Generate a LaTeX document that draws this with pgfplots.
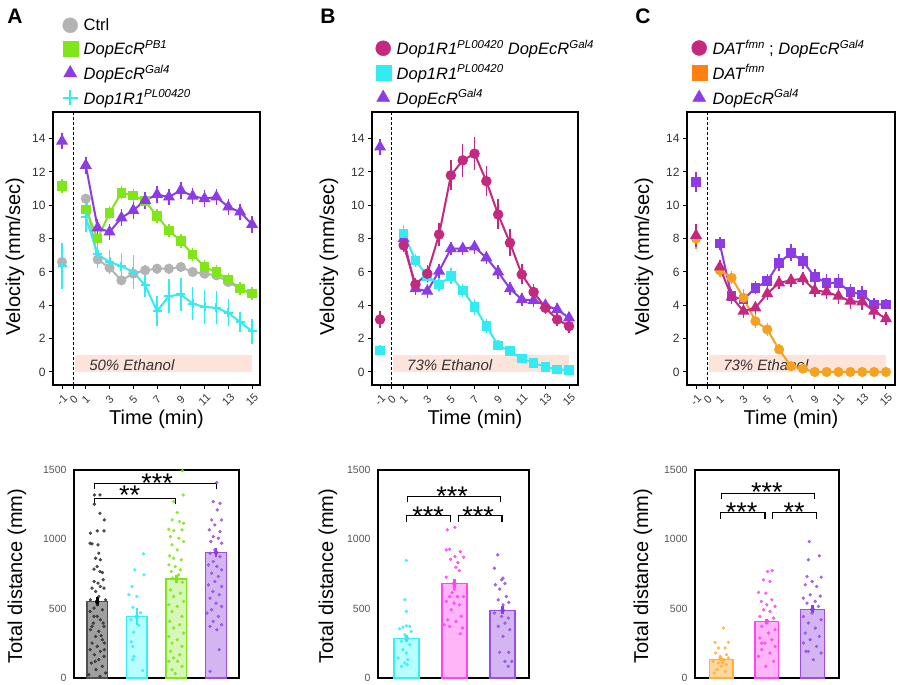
\documentclass[border=0pt]{standalone}
\usepackage{fontspec}
\setmainfont{Liberation Sans}
\usepackage{pgfplots}
\pgfplotsset{compat=1.18}
\definecolor{cgray}{HTML}{B3B3B3}
\definecolor{cgreen}{HTML}{80E619}
\definecolor{cpurple}{HTML}{8C3BE5}
\definecolor{ccyan}{HTML}{33EBF2}
\definecolor{cmag}{HTML}{C4287F}
\definecolor{corange}{HTML}{F7A21F}
\definecolor{corange2}{HTML}{FF8010}
\definecolor{cband}{HTML}{FDE4DB}
\definecolor{ctick}{HTML}{333333}
\definecolor{ctickb}{HTML}{555555}
% bar colours
\definecolor{bgrayF}{HTML}{A0A0A0}\definecolor{bgrayE}{HTML}{505050}\definecolor{bgrayD}{HTML}{333333}
\definecolor{bcyanF}{HTML}{B8FDFF}\definecolor{bcyanE}{HTML}{35F0F5}
\definecolor{bgreenF}{HTML}{D6F7B8}\definecolor{bgreenE}{HTML}{80E619}
\definecolor{bpurpF}{HTML}{D4B5F2}\definecolor{bpurpE}{HTML}{9A4DE8}
\definecolor{bpinkF}{HTML}{FFB5F7}\definecolor{bpinkE}{HTML}{FF45F0}
\definecolor{borangF}{HTML}{FFD69C}\definecolor{borangE}{HTML}{FFB03C}
\newcommand{\sups}[1]{\raisebox{6.5pt}{\fontsize{11.5}{12}\selectfont\itshape #1}}
\tikzset{
  star/.style={font=\fontsize{27}{27}\selectfont, anchor=center, inner sep=0pt},
  brk/.style={line width=1.2pt, black},
}
\pgfplotsset{
  topax/.style={
    scale only axis, height=273pt, anchor=south west,
    ymin=-0.78, ymax=15.6,
    ytick={0,2,...,14},
    xtick={-1,0,1,3,5,7,9,11,13,15},
    tick pos=left, tick align=outside, major tick length=4pt,
    every tick/.style={black, line width=1pt},
    axis line style={line width=1.6pt},
    tick label style={font=\fontsize{12}{14}\selectfont, text=ctick},
    xticklabel style={rotate=45, anchor=center, font=\fontsize{11}{13}\selectfont},
    xticklabel shift=11pt,
    /pgf/number format/assume math mode=true,
    label style={font=\fontsize{20}{24}\selectfont},
    xlabel={Time (min)},
    ylabel={Velocity (mm/sec)},
    xlabel style={at={(axis description cs:0.5,-0.125)}, anchor=center},
    unbounded coords=jump,
    legend cell align=left,
    legend image code/.code={\draw[##1] plot coordinates {(7.5pt,0pt)}; \path[draw=none, fill=none] (0pt,0pt) -- (19pt,0pt);},
    legend style={at={(axis description cs:0,1)}, anchor=south west, draw=none, fill=none,
      inner sep=0pt, row sep=4.5pt, font=\fontsize{16.5}{19}\selectfont},
  },
  ser/.style={color=#1, line width=2pt, mark options={solid, fill=#1},
    error bars/y dir=both, error bars/y explicit, error bars/error mark=none,
    error bars/error bar style={line width=1.5pt, color=#1}},
  leg/.style={only marks, mark size=7.5pt, color=#1, mark options={fill=#1}},
  botax/.style={
    scale only axis, anchor=south west, height=208pt, ymin=0, ymax=1500,
    ytick={0,500,1000,1500}, xtick=\empty, major tick length=0pt, tick pos=left,
    axis line style={line width=1.3pt},
    yticklabel style={font=\fontsize{10.5}{12}\selectfont, text=ctickb, xshift=-4pt},
    /pgf/number format/assume math mode=true, /pgf/number format/1000 sep={},
    ylabel={Total distance (mm)}, label style={font=\fontsize{20}{24}\selectfont},
    clip=false,
  },
  bars/.style 2 args={ybar, bar width=0.52, bar shift=0pt, fill=#1, draw=#2, line width=1.3pt, forget plot},
  dots/.style={only marks, mark=*, color=#1, mark size=1.45pt, mark options={draw=none, fill=#1, fill opacity=0.8}, forget plot},
  eb/.style={only marks, mark=none, color=#1, forget plot, error bars/y dir=both, error bars/y explicit, error bars/error mark=none,
    error bars/error bar style={line width=2.6pt, color=#1}},
}
\begin{document}
\begin{tikzpicture}
\path[use as bounding box] (0pt,0pt) rectangle (900pt,685pt);
\node[font=\bfseries\fontsize{21}{21}\selectfont] at (15pt,669pt) {A};
\node[font=\bfseries\fontsize{21}{21}\selectfont] at (328pt,669pt) {B};
\node[font=\bfseries\fontsize{21}{21}\selectfont] at (643pt,669pt) {C};

% ================= A top =================
\begin{axis}[topax, at={(53pt,300pt)}, width=207pt, xmin=-1.76, xmax=15.67,
  ylabel style={at={(axis description cs:-0.184,0.47)}, anchor=center},
  legend style={xshift=9.5pt, yshift=4pt}]
\addplot[fill=cband, draw=none, forget plot] coordinates {(0.1,0) (15,0) (15,1) (0.1,1)} -- cycle;
\node[anchor=west, font=\itshape\fontsize{15}{15}\selectfont, text=ctick] at (axis cs:1.0,0.42) {50\% Ethanol};
\draw[densely dashed, line width=0.9pt] (axis cs:0,-0.78) -- (axis cs:0,15.6);
\addlegendimage{leg=cgray, mark=*}\addlegendentry{Ctrl}
\addlegendimage{leg=cgreen, mark=square*}\addlegendentry{\textit{DopEcR}\sups{PB1}}
\addlegendimage{leg=cpurple, mark=triangle*}\addlegendentry{\textit{DopEcR}\sups{Gal4}}
\addlegendimage{leg=ccyan, mark=+, mark options={line width=2.2pt}}\addlegendentry{\textit{Dop1R1}\sups{PL00420}}
\addplot[ser=cgray, mark=*, mark size=4pt, forget plot] table[x=x, y=y, y error=e, row sep=\\] {
x y e\\ -1 6.6 0.3\\ 0 nan 0\\ 1 10.4 0.3\\ 2 6.75 0.3\\ 3 6.25 0.3\\ 4 5.5 0.3\\ 5 5.9 0.3\\ 6 6.1 0.3\\ 7 6.2 0.3\\ 8 6.2 0.3\\ 9 6.3 0.3\\ 10 6.0 0.3\\ 11 5.9 0.3\\ 12 5.8 0.3\\ 13 5.4 0.3\\ 14 5.0 0.3\\ 15 4.7 0.3\\
};
\addplot[ser=cgreen, mark=square*, mark size=3.8pt, forget plot] table[x=x, y=y, y error=e, row sep=\\] {
x y e\\ -1 11.15 0.4\\ 0 nan 0\\ 1 9.75 0.4\\ 2 8.0 0.4\\ 3 9.55 0.4\\ 4 10.75 0.4\\ 5 10.6 0.4\\ 6 10.25 0.4\\ 7 9.35 0.4\\ 8 8.5 0.4\\ 9 7.85 0.4\\ 10 7.05 0.4\\ 11 6.3 0.4\\ 12 6.0 0.4\\ 13 5.55 0.4\\ 14 5.0 0.4\\ 15 4.7 0.4\\
};
\addplot[ser=cpurple, mark=triangle*, mark size=5pt, forget plot] table[x=x, y=y, y error=e, row sep=\\] {
x y e\\ -1 13.85 0.5\\ 0 nan 0\\ 1 12.4 0.5\\ 2 8.65 0.5\\ 3 8.4 0.5\\ 4 9.25 0.5\\ 5 9.7 0.5\\ 6 10.3 0.5\\ 7 10.65 0.5\\ 8 10.5 0.5\\ 9 10.9 0.5\\ 10 10.55 0.5\\ 11 10.4 0.5\\ 12 10.5 0.5\\ 13 9.9 0.5\\ 14 9.6 0.5\\ 15 8.85 0.5\\
};
\addplot[ser=ccyan, mark=+, mark size=4.5pt, forget plot] table[x=x, y=y, y error=e, row sep=\\] {
x y e\\ -1 6.35 1.4\\ 0 nan 0\\ 1 9.3 0.9\\ 2 7.05 0.8\\ 3 6.6 0.7\\ 4 6.35 0.8\\ 5 6.0 1.0\\ 6 5.2 0.7\\ 7 3.65 0.9\\ 8 4.55 1.0\\ 9 4.65 1.0\\ 10 4.1 1.0\\ 11 3.9 1.0\\ 12 3.85 1.0\\ 13 3.55 0.8\\ 14 3.0 0.6\\ 15 2.45 0.75\\
};
\end{axis}

% ================= B top =================
\begin{axis}[topax, at={(372pt,300pt)}, width=206pt, xmin=-1.68, xmax=15.76,
  ylabel style={at={(axis description cs:-0.209,0.47)}, anchor=center},
  legend style={xshift=3.5pt, yshift=4pt}]
\addplot[fill=cband, draw=none, forget plot] coordinates {(0.1,0) (15,0) (15,1) (0.1,1)} -- cycle;
\node[anchor=west, font=\itshape\fontsize{15}{15}\selectfont, text=ctick] at (axis cs:1.0,0.42) {73\% Ethanol};
\draw[densely dashed, line width=0.9pt] (axis cs:0,-0.78) -- (axis cs:0,15.6);
\addlegendimage{leg=cmag, mark=*}\addlegendentry{\textit{Dop1R1}\sups{PL00420} \textit{DopEcR}\sups{Gal4}}
\addlegendimage{leg=ccyan, mark=square*}\addlegendentry{\textit{Dop1R1}\sups{PL00420}}
\addlegendimage{leg=cpurple, mark=triangle*}\addlegendentry{\textit{DopEcR}\sups{Gal4}}
\addplot[ser=cpurple, mark=triangle*, mark size=5pt, forget plot] table[x=x, y=y, y error=e, row sep=\\] {
x y e\\ -1 13.5 0.5\\ 0 nan 0\\ 1 8.0 0.4\\ 2 5.0 0.4\\ 3 4.85 0.4\\ 4 6.05 0.4\\ 5 7.4 0.4\\ 6 7.4 0.4\\ 7 7.5 0.4\\ 8 6.85 0.4\\ 9 6.0 0.4\\ 10 5.0 0.4\\ 11 4.35 0.4\\ 12 4.3 0.4\\ 13 4.0 0.4\\ 14 3.75 0.4\\ 15 3.25 0.3\\
};
\addplot[ser=ccyan, mark=square*, mark size=3.8pt, forget plot] table[x=x, y=y, y error=e, row sep=\\] {
x y e\\ -1 1.3 0.3\\ 0 nan 0\\ 1 8.3 0.5\\ 2 6.7 0.4\\ 3 5.75 0.4\\ 4 5.25 0.4\\ 5 5.75 0.5\\ 6 4.9 0.4\\ 7 3.9 0.5\\ 8 2.75 0.4\\ 9 1.6 0.3\\ 10 1.25 0.3\\ 11 0.8 0.2\\ 12 0.55 0.2\\ 13 0.3 0.1\\ 14 0.15 0.1\\ 15 0.12 0.1\\
};
\addplot[ser=cmag, mark=*, mark size=4.2pt, forget plot] table[x=x, y=y, y error=e, row sep=\\] {
x y e\\ -1 3.15 0.5\\ 0 nan 0\\ 1 7.6 0.4\\ 2 5.25 0.4\\ 3 5.9 0.5\\ 4 8.25 0.7\\ 5 11.8 0.9\\ 6 12.7 1.0\\ 7 13.1 1.0\\ 8 11.45 0.9\\ 9 9.45 0.9\\ 10 7.75 0.8\\ 11 5.85 0.6\\ 12 4.8 0.5\\ 13 3.85 0.4\\ 14 3.15 0.4\\ 15 2.75 0.4\\
};
\end{axis}

% ================= C top =================
\begin{axis}[topax, at={(687pt,300pt)}, width=208pt, xmin=-1.76, xmax=15.76,
  ylabel style={at={(axis description cs:-0.207,0.47)}, anchor=center},
  legend style={xshift=4.5pt, yshift=4pt}]
\addplot[fill=cband, draw=none, forget plot] coordinates {(0.1,0) (15,0) (15,1) (0.1,1)} -- cycle;
\node[anchor=west, font=\itshape\fontsize{15}{15}\selectfont, text=ctick] at (axis cs:1.0,0.42) {73\% Ethanol};
\draw[densely dashed, line width=0.9pt] (axis cs:0,-0.78) -- (axis cs:0,15.6);
\addlegendimage{leg=cmag, mark=*}\addlegendentry{\textit{DAT}\sups{fmn} ; \textit{DopEcR}\sups{Gal4}}
\addlegendimage{leg=corange2, mark=square*}\addlegendentry{\textit{DAT}\sups{fmn}}
\addlegendimage{leg=cpurple, mark=triangle*}\addlegendentry{\textit{DopEcR}\sups{Gal4}}
\addplot[ser=cpurple, mark=square*, mark size=3.8pt, forget plot] table[x=x, y=y, y error=e, row sep=\\] {
x y e\\ -1 11.4 0.6\\ 0 nan 0\\ 1 7.7 0.4\\ 2 4.55 0.4\\ 3 4.35 0.4\\ 4 5.05 0.4\\ 5 5.45 0.4\\ 6 6.55 0.5\\ 7 7.15 0.5\\ 8 6.65 0.5\\ 9 5.7 0.5\\ 10 5.35 0.5\\ 11 5.35 0.5\\ 12 4.8 0.5\\ 13 4.65 0.5\\ 14 4.05 0.4\\ 15 4.05 0.3\\
};
\addplot[ser=corange, mark=*, mark size=4pt, forget plot] table[x=x, y=y, y error=e, row sep=\\] {
x y e\\ -1 8.0 0.6\\ 0 nan 0\\ 1 6.1 0.4\\ 2 5.65 0.4\\ 3 4.45 0.5\\ 4 3.05 0.4\\ 5 2.55 0.4\\ 6 1.35 0.3\\ 7 0.35 0.2\\ 8 0.2 0.1\\ 9 0 0\\ 10 0 0\\ 11 0 0\\ 12 0 0\\ 13 0 0\\ 14 0 0\\ 15 0 0\\
};
\addplot[ser=cmag, mark=triangle*, mark size=5pt, forget plot] table[x=x, y=y, y error=e, row sep=\\] {
x y e\\ -1 8.2 0.7\\ 0 nan 0\\ 1 6.3 0.4\\ 2 4.5 0.4\\ 3 3.65 0.4\\ 4 3.85 0.4\\ 5 4.7 0.4\\ 6 5.35 0.4\\ 7 5.5 0.4\\ 8 5.6 0.4\\ 9 4.9 0.4\\ 10 4.8 0.4\\ 11 4.55 0.5\\ 12 4.25 0.5\\ 13 4.2 0.5\\ 14 3.65 0.5\\ 15 3.2 0.4\\
};
\end{axis}

% ================= A bottom =================
\begin{axis}[botax, at={(74pt,7pt)}, width=165pt, xmin=0.414, xmax=4.58,
  ylabel style={at={(axis description cs:-0.345,0.49)}, anchor=center}]
\addplot[bars={bgrayF}{bgrayE}] coordinates {(1,550)};
\addplot[bars={bcyanF}{bcyanE}] coordinates {(2,442)};
\addplot[bars={bgreenF}{bgreenE}] coordinates {(3,714)};
\addplot[bars={bpurpF}{bpurpE}] coordinates {(4,904)};
\addplot[dots=bgrayD] coordinates {(0.93,1320)(1.07,1320)(0.93,1253)(1.07,1188)(1.18,1140)(1.0,1061)(0.83,1044)(1.17,1061)(0.82,972)(0.87,967)(1.02,960)(1.04,900)(0.96,864)(1.08,852)(1.0,804)(0.92,785)(1.07,768)(1.13,761)(1.15,708)(0.92,696)(1.02,684)(1.08,660)(0.87,648)(1.17,648)(0.96,624)(1.04,588)(1.21,564)(0.83,564)(0.92,504)(1.13,492)(0.82,480)(1.0,444)(1.08,420)(0.9,396)(1.17,372)(0.83,348)(1.04,336)(0.96,300)(1.13,276)(0.87,252)(1.18,252)(1.0,228)(0.82,204)(1.08,192)(0.93,168)(1.17,156)(1.04,132)(0.85,108)(1.13,84)(0.97,60)(1.21,36)(0.79,24)(1.07,12)(0.92,444)(1.15,396)(1.0,528)(0.87,372)(1.1,305)(0.95,120)(1.18,204)};
\addplot[dots=bcyanE] coordinates {(2.17,895)(1.95,780)(2.18,744)(1.88,660)(1.8,600)(2.0,588)(1.9,510)(2.1,470)(1.85,420)(2.05,380)(1.92,330)(1.86,260)(1.9,228)(1.93,156)(1.9,132)(2.15,53)};
\addplot[dots=bgreenE] coordinates {(3.15,1495)(3.17,1320)(2.93,1272)(3.02,1193)(2.89,1140)(3.08,1128)(3.18,1116)(2.81,1073)(2.93,1063)(3.14,1068)(2.85,1020)(3.06,1008)(3.18,984)(2.89,960)(3.02,924)(2.83,881)(2.93,864)(3.12,852)(2.81,816)(2.97,804)(3.1,780)(2.87,768)(3.06,744)(2.85,636)(3.1,612)(2.93,588)(3.18,552)(2.81,528)(3.02,516)(2.89,480)(3.14,444)(2.83,408)(3.08,384)(2.93,360)(3.18,324)(2.81,300)(3.02,276)(2.89,252)(3.14,228)(2.85,192)(3.08,168)(2.93,144)(2.81,120)(3.03,120)(3.14,84)(2.89,60)(2.97,31)(3.0,700)(2.9,720)(3.15,690)};
\addplot[dots=bpurpE] coordinates {(4.02,1409)(3.93,1272)(4.1,1260)(4.03,1212)(3.89,1140)(4.14,1140)(3.97,1104)(3.83,1068)(4.1,1056)(3.93,1020)(4.06,1008)(3.87,984)(4.14,972)(3.97,924)(3.85,900)(4.1,876)(3.93,840)(3.81,816)(4.02,804)(4.14,780)(3.89,756)(4.06,732)(3.97,696)(3.81,672)(4.14,660)(3.92,624)(4.08,600)(3.85,576)(4.0,540)(4.14,516)(3.89,492)(3.77,468)(4.06,444)(3.93,408)(4.14,384)(3.85,372)(4.02,348)(4.08,204)(3.85,48)};
\addplot[eb=black] coordinates {(1,550) +- (0,34)};
\addplot[eb=ccyan] coordinates {(2,442) +- (0,60)};
\addplot[eb=bgreenE] coordinates {(3,714) +- (0,30)};
\addplot[eb=cpurple] coordinates {(4,904) +- (0,31)};
\draw[brk] (axis cs:0.935,1361) -- (axis cs:0.935,1404) -- (axis cs:4.015,1404) -- (axis cs:4.015,1361);
\draw[brk] (axis cs:0.935,1253) -- (axis cs:0.935,1296) -- (axis cs:2.97,1296) -- (axis cs:2.97,1253);
\node[star] at (axis cs:2.51,1405) {***};
\node[star] at (axis cs:1.82,1319) {**};
\end{axis}

% ================= B bottom =================
\begin{axis}[botax, at={(378pt,7pt)}, width=151pt, xmin=0.41, xmax=3.55,
  ylabel style={at={(axis description cs:-0.331,0.49)}, anchor=center}]
\addplot[bars={bcyanF}{bcyanE}] coordinates {(1,286)};
\addplot[bars={bpinkF}{bpinkE}] coordinates {(2,680)};
\addplot[bars={bpurpF}{bpurpE}] coordinates {(3,488)};
\addplot[dots=bcyanE] coordinates {(1.0,847)(0.97,564)(1.0,480)(0.93,367)(1.0,377)(1.07,372)(0.86,355)(1.1,336)(0.97,312)(1.03,288)(0.9,264)(1.07,240)(0.93,204)(1.0,180)(0.83,144)(1.03,132)(0.97,108)(0.9,84)(1.02,96)};
\addplot[dots=bpinkE] coordinates {(1.85,1068)(2.01,1087)(1.83,924)(1.9,929)(2.12,912)(2.01,876)(1.92,857)(2.07,833)(2.19,871)(2.03,799)(2.1,775)(1.83,727)(1.99,689)(1.9,588)(2.06,588)(2.19,588)(1.83,552)(1.99,540)(2.1,528)(1.93,492)(2.14,444)(1.86,420)(2.03,408)(1.79,384)(2.17,360)(1.9,372)(2.12,319)(2.0,640)(1.95,615)};
\addplot[dots=bpurpE] coordinates {(2.9,888)(2.83,792)(3.01,720)(2.98,708)(2.85,672)(3.05,682)(2.94,641)(3.08,588)(2.91,564)(3.13,545)(3.01,528)(2.83,468)(2.98,444)(3.12,432)(3.05,396)(2.91,372)(3.15,348)(3.01,300)(2.94,185)(3.13,185)(3.05,120)(3.19,120)(3.12,84)};
\addplot[eb=ccyan] coordinates {(1,286) +- (0,24)};
\addplot[eb=bpinkE] coordinates {(2,680) +- (0,32)};
\addplot[eb=cpurple] coordinates {(3,488) +- (0,30)};
\draw[brk] (axis cs:1.02,1267) -- (axis cs:1.02,1308) -- (axis cs:2.96,1308) -- (axis cs:2.96,1267);
\draw[brk] (axis cs:1.0,1127) -- (axis cs:1.0,1171) -- (axis cs:1.925,1171) -- (axis cs:1.925,1127);
\draw[brk] (axis cs:2.08,1127) -- (axis cs:2.08,1171) -- (axis cs:2.99,1171) -- (axis cs:2.99,1127);
\node[star] at (axis cs:1.95,1314) {***};
\node[star] at (axis cs:1.45,1170) {***};
\node[star] at (axis cs:2.49,1170) {***};
\end{axis}

% ================= C bottom =================
\begin{axis}[botax, at={(695pt,7pt)}, width=144pt, xmin=0.43, xmax=3.58,
  ylabel style={at={(axis description cs:-0.361,0.49)}, anchor=center}]
\addplot[bars={borangF}{borangE}] coordinates {(1,135)};
\addplot[bars={bpinkF}{bpinkE}] coordinates {(2,409)};
\addplot[bars={bpurpF}{bpurpE}] coordinates {(3,495)};
\addplot[dots=borangE] coordinates {(1.05,360)(0.87,257)(1.16,257)(0.94,216)(1.09,216)(0.88,180)(1.12,168)(0.98,144)(1.07,132)(0.83,120)(0.94,108)(1.12,96)(1.01,84)(0.91,60)(1.09,48)(0.85,36)(0.98,156)(1.16,144)(1.03,110)};
\addplot[dots=bpinkE] coordinates {(2.02,768)(2.12,775)(1.93,708)(2.07,696)(1.82,617)(1.98,612)(2.11,564)(1.88,552)(2.0,528)(2.18,516)(1.93,492)(2.07,480)(1.85,444)(2.15,432)(2.0,396)(1.89,372)(2.18,348)(2.04,324)(1.85,288)(2.11,276)(1.96,252)(2.18,228)(1.89,204)(2.07,180)(1.82,156)(2.15,120)(1.98,84)(1.89,252)};
\addplot[dots=bpurpE] coordinates {(2.93,984)(2.91,852)(3.15,881)(2.88,732)(3.19,727)(2.99,696)(2.84,672)(3.09,660)(2.95,600)(3.17,590)(2.8,576)(3.06,552)(2.88,540)(3.13,516)(2.99,468)(2.8,444)(3.19,420)(2.91,396)(3.06,360)(2.84,324)(3.15,300)(2.95,276)(2.8,252)(3.09,228)(2.91,192)(3.19,180)(3.02,132)(2.86,192)};
\addplot[eb=borangE] coordinates {(1,135) +- (0,12)};
\addplot[eb=bpinkE] coordinates {(2,409) +- (0,18)};
\addplot[eb=cpurple] coordinates {(3,495) +- (0,28)};
\draw[brk] (axis cs:1.01,1291) -- (axis cs:1.01,1332) -- (axis cs:3.04,1332) -- (axis cs:3.04,1291);
\draw[brk] (axis cs:0.985,1149) -- (axis cs:0.985,1192) -- (axis cs:1.96,1192) -- (axis cs:1.96,1149);
\draw[brk] (axis cs:2.12,1149) -- (axis cs:2.12,1192) -- (axis cs:3.08,1192) -- (axis cs:3.08,1149);
\node[star] at (axis cs:2.0,1338) {***};
\node[star] at (axis cs:1.45,1198) {***};
\node[star] at (axis cs:2.6,1198) {**};
\end{axis}
\end{tikzpicture}
\end{document}
